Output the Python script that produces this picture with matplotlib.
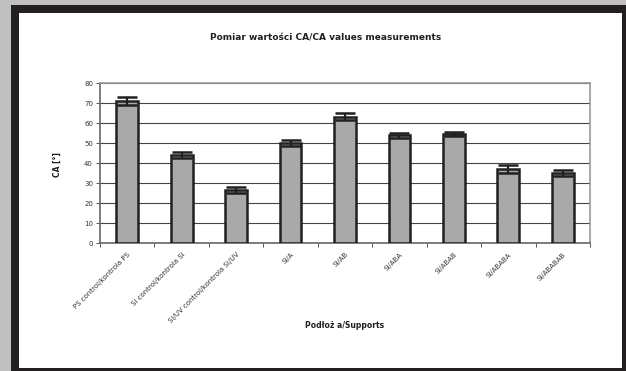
import matplotlib
matplotlib.use('Agg')
import matplotlib.pyplot as plt
from matplotlib.patches import Rectangle

labels = ['PS control/kontrola PS', 'Si control/kontrola Si',
          'Si/UV control/kontrola Si/UV', 'Si/A', 'Si/AB', 'Si/ABA',
          'Si/ABAB', 'Si/ABABA', 'Si/ABABAB']
ca = [71, 44, 26.6, 50, 63.2, 53.8, 54.5, 37, 35.1]
err = [1.8, 1.7, 1.5, 1.7, 1.9, 1.2, 0.8, 2.0, 1.5]
yticks = [0, 10, 20, 30, 40, 50, 60, 70, 80]

W, H = 626, 371
fig = plt.figure(figsize=(W / 100, H / 100), dpi=100)
fig.patch.set_facecolor('#c0c0c0')

# black frame and white chart area (pixel coords from lower left)
fig.patches.append(Rectangle((11 / W, 0), 1 - 11 / W, 366 / H,
                             transform=fig.transFigure, facecolor='#231f20',
                             edgecolor='none', zorder=-2))
fig.patches.append(Rectangle((19 / W, 3 / H), 603 / W, 355 / H,
                             transform=fig.transFigure, facecolor='white',
                             edgecolor='none', zorder=-1))

ax = fig.add_axes([100 / W, 128 / H, 490 / W, 160 / H])
ax.set_facecolor('white')

x = list(range(len(labels)))
ax.bar(x, ca, width=0.4, color='#a9a9a9', edgecolor='#231f20',
       linewidth=1.8, zorder=3)
ax.errorbar(x, ca, yerr=err, fmt='none', ecolor='#231f20', elinewidth=1.6,
            capsize=7, capthick=1.8, zorder=4)

ax.set_xlim(-0.5, len(labels) - 0.5)
ax.set_ylim(0, 80)
ax.set_yticks(yticks)
ax.set_yticklabels([str(v) for v in yticks], fontsize=5, color='#333333')
ax.yaxis.grid(True, color='#444444', linewidth=0.8, zorder=1)
ax.set_axisbelow(True)

ax.set_xticks([i - 0.5 for i in range(len(labels) + 1)])
ax.set_xticklabels([])
ax.set_xticks(x, minor=True)
ax.set_xticklabels(labels, minor=True, rotation=45, ha='right',
                   rotation_mode='anchor', fontsize=5, color='#333333')
ax.tick_params(axis='x', which='minor', length=0, pad=6)
ax.tick_params(axis='x', which='major', length=3, width=0.7, color='#555555')
ax.tick_params(axis='y', length=3, width=0.7, color='#555555', pad=2)

for s in ax.spines.values():
    s.set_color('#999999')
    s.set_linewidth(1.2)
ax.spines['left'].set_color('#666666')
ax.spines['bottom'].set_color('#666666')

fig.text(0.52, 1 - 38 / H, 'Pomiar wartości CA/CA values measurements',
         ha='center', va='center', fontsize=6.5, fontweight='bold',
         color='#231f20')
fig.text(57 / W, 1 - 165 / H, 'CA [°]', rotation=90, ha='center',
         va='center', fontsize=5.5, fontweight='bold', color='#231f20')
fig.text(345 / W, 1 - 326 / H, 'Podłoż a/Supports', ha='center',
         va='center', fontsize=5.5, fontweight='bold', color='#231f20')

fig.savefig('out.png', dpi=100, facecolor=fig.get_facecolor())
